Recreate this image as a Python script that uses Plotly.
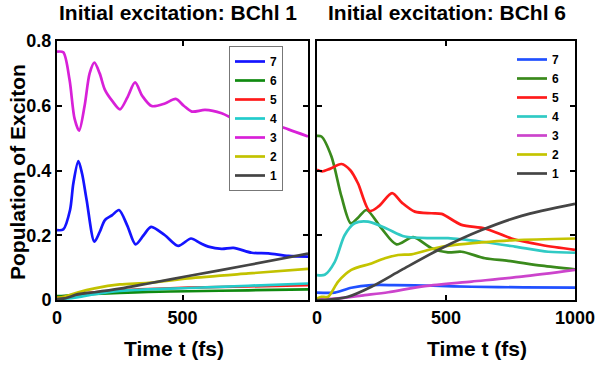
import plotly.graph_objects as go

# ---------------- data: initial excitation BChl 1 (left panel) ----------------
series_names = ["7", "6", "5", "4", "3", "2", "1"]

tL_7 = [0, 25, 52, 65, 85, 100, 118, 149, 170, 191, 220, 247, 280, 313, 345, 375, 430, 483, 534, 570, 603, 656, 703, 776, 842, 922, 1000]
L_7 = [0.216, 0.218, 0.278, 0.36, 0.429, 0.39, 0.309, 0.18, 0.21, 0.247, 0.262, 0.278, 0.23, 0.172, 0.20, 0.226, 0.20, 0.167, 0.19, 0.176, 0.165, 0.158, 0.161, 0.146, 0.144, 0.136, 0.134]

tL_3 = [0, 25, 50, 70, 88, 110, 130, 149, 170, 191, 220, 251, 280, 311, 340, 377, 430, 473, 505, 537, 590, 656, 716, 749, 830, 922, 1000]
L_3 = [0.767, 0.765, 0.68, 0.56, 0.523, 0.60, 0.70, 0.733, 0.70, 0.649, 0.615, 0.589, 0.625, 0.672, 0.63, 0.599, 0.607, 0.621, 0.60, 0.582, 0.587, 0.577, 0.556, 0.558, 0.55, 0.527, 0.505]

tL_low = [0, 30, 85, 150, 250, 364, 523, 762, 1000]
L_1 = [0.003, 0.005, 0.018, 0.024, 0.035, 0.051, 0.074, 0.108, 0.143]
L_2 = [0.007, 0.010, 0.024, 0.036, 0.048, 0.053, 0.067, 0.082, 0.096]
L_4 = [0.003, 0.004, 0.009, 0.018, 0.028, 0.033, 0.037, 0.044, 0.051]
L_5 = [0.007, 0.010, 0.018, 0.024, 0.030, 0.034, 0.038, 0.042, 0.046]
L_6 = [0.012, 0.013, 0.017, 0.019, 0.022, 0.025, 0.027, 0.030, 0.033]

# ---------------- data: initial excitation BChl 6 (right panel) ----------------
tR_6 = [0, 17, 56, 95, 131, 160, 192, 250, 308, 373, 444, 508, 560, 651, 741, 871, 1000]
R_6 = [0.507, 0.505, 0.443, 0.319, 0.237, 0.255, 0.278, 0.221, 0.172, 0.194, 0.16, 0.147, 0.149, 0.129, 0.121, 0.106, 0.095]

tR_5 = [0, 20, 50, 95, 130, 159, 204, 240, 291, 330, 379, 444, 483, 560, 651, 754, 871, 1000]
R_5 = [0.402, 0.397, 0.405, 0.42, 0.40, 0.36, 0.275, 0.29, 0.33, 0.30, 0.273, 0.268, 0.266, 0.232, 0.221, 0.19, 0.17, 0.155]

tR_4 = [0, 30, 69, 107, 146, 198, 269, 340, 444, 508, 638, 767, 896, 1000]
R_4 = [0.077, 0.078, 0.118, 0.2, 0.237, 0.242, 0.221, 0.196, 0.191, 0.191, 0.18, 0.165, 0.149, 0.146]

tR_2 = [0, 17, 43, 82, 133, 211, 263, 314, 366, 457, 534, 638, 767, 1000]
R_2 = [0.005, 0.01, 0.01, 0.057, 0.093, 0.113, 0.129, 0.139, 0.141, 0.16, 0.17, 0.178, 0.185, 0.19]

tR_1 = [0, 30, 120, 211, 328, 483, 638, 793, 1000]
R_1 = [0.0, 0.0, 0.01, 0.041, 0.093, 0.16, 0.216, 0.26, 0.297]

tR_7 = [0, 69, 133, 211, 300, 450, 600, 800, 1000]
R_7 = [0.023, 0.023, 0.038, 0.046, 0.046, 0.044, 0.041, 0.039, 0.038]

tR_3 = [0, 69, 185, 276, 418, 599, 793, 1000]
R_3 = [0.002, 0.004, 0.015, 0.024, 0.043, 0.057, 0.072, 0.093]

y_ticks = [0, 0.2, 0.4, 0.6, 0.8]
y_tick_labels = ["0", "0.2", "0.4", "0.6", "0.8"]

colors_L = {"7": "#1414ff", "6": "#108a10", "5": "#ff1a1a", "4": "#22cccc",
            "3": "#d820d8", "2": "#c2c200", "1": "#444444"}
colors_R = {"7": "#2050ff", "6": "#3a8a1c", "5": "#ff1a1a", "4": "#30cac4",
            "3": "#cc44cc", "2": "#c4c400", "1": "#454545"}

left = {"7": (tL_7, L_7), "6": (tL_low, L_6), "5": (tL_low, L_5), "4": (tL_low, L_4),
        "3": (tL_3, L_3), "2": (tL_low, L_2), "1": (tL_low, L_1)}
right = {"7": (tR_7, R_7), "6": (tR_6, R_6), "5": (tR_5, R_5), "4": (tR_4, R_4),
         "3": (tR_3, R_3), "2": (tR_2, R_2), "1": (tR_1, R_1)}

FONT = "Liberation Sans, Arial, Helvetica, sans-serif"
W, H = 595, 370

fig = go.Figure()
for name in series_names:
    t, v = left[name]
    fig.add_trace(go.Scatter(x=t, y=v, mode="lines", name=name,
                             line=dict(color=colors_L[name], width=2.7, shape="spline", smoothing=0.8),
                             xaxis="x", yaxis="y", legend="legend"))
for name in series_names:
    t, v = right[name]
    fig.add_trace(go.Scatter(x=t, y=v, mode="lines", name=name,
                             line=dict(color=colors_R[name], width=2.7, shape="spline", smoothing=0.8),
                             xaxis="x2", yaxis="y2", legend="legend2"))

def px_x(p):
    return p / W

def px_y(p):
    return 1 - p / H

axis_common = dict(showline=True, linecolor="black", linewidth=2, mirror="ticks",
                   ticks="inside", ticklen=5, tickwidth=1.5, tickcolor="black",
                   showgrid=False, zeroline=False, automargin=False,
                   ticklabeloverflow="allow",
                   tickfont=dict(family=FONT, size=18, color="black", weight="bold"))

fig.update_layout(
    width=W, height=H,
    margin=dict(l=0, r=0, t=0, b=0, pad=0, autoexpand=False),
    paper_bgcolor="white", plot_bgcolor="white",
    font=dict(family=FONT, color="black", weight="bold"),
    xaxis=dict(domain=[px_x(57), px_x(308)], range=[0, 1000], tickvals=[0, 500],
               anchor="y", **axis_common),
    yaxis=dict(domain=[px_y(300), px_y(41)], range=[0, 0.8], tickvals=y_ticks,
               ticktext=y_tick_labels, anchor="x", **axis_common),
    xaxis2=dict(domain=[px_x(317), px_x(575)], range=[0, 1000], tickvals=[0, 500, 1000],
                anchor="y2", **axis_common),
    yaxis2=dict(domain=[px_y(300), px_y(41)], range=[0, 0.8], tickvals=y_ticks,
                showticklabels=False, anchor="x2", **axis_common),
    legend=dict(x=px_x(283), xanchor="right", y=px_y(46), yanchor="top",
                bgcolor="white", bordercolor="#777777", borderwidth=1,
                font=dict(family=FONT, size=12, color="black", weight="bold"),
                itemwidth=30, tracegroupgap=0),
    legend2=dict(x=px_x(512), xanchor="left", y=px_y(45), yanchor="top",
                 bgcolor="rgba(0,0,0,0)", borderwidth=0,
                 font=dict(family=FONT, size=12, color="black", weight="bold"),
                 itemwidth=30, tracegroupgap=0),
    showlegend=True,
)

ann_font = dict(family=FONT, size=21, color="black", weight="bold")
fig.add_annotation(text="Initial excitation: BChl 1", x=px_x(178), y=px_y(13),
                   xref="paper", yref="paper", showarrow=False, xanchor="center", yanchor="middle", font=ann_font)
fig.add_annotation(text="Initial excitation: BChl 6", x=px_x(447), y=px_y(13),
                   xref="paper", yref="paper", showarrow=False, xanchor="center", yanchor="middle", font=ann_font)
fig.add_annotation(text="Time t (fs)", x=px_x(174), y=px_y(348),
                   xref="paper", yref="paper", showarrow=False, xanchor="center", yanchor="middle", font=ann_font)
fig.add_annotation(text="Time t (fs)", x=px_x(477), y=px_y(348),
                   xref="paper", yref="paper", showarrow=False, xanchor="center", yanchor="middle", font=ann_font)
fig.add_annotation(text="Population of Exciton", x=px_x(17), y=px_y(172), textangle=-90,
                   xref="paper", yref="paper", showarrow=False, xanchor="center", yanchor="middle", font=ann_font)

fig.write_html("out.html", config={"displayModeBar": False},
               post_script="document.body.style.margin='0';document.body.style.padding='0';document.body.style.overflow='hidden';")
